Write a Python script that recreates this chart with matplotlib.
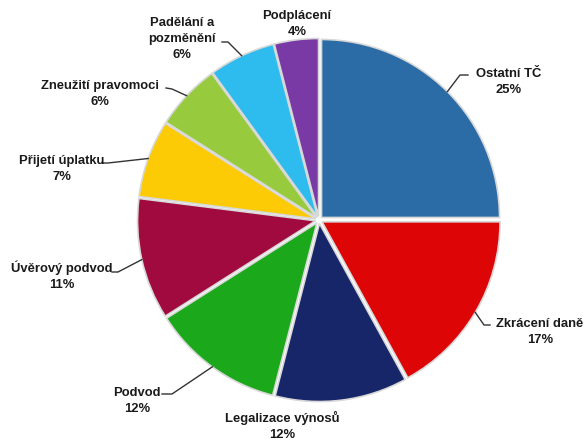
# Pie chart: structure of economic crime (Czech labels)
import numpy as np
import matplotlib.pyplot as plt

# -------------------------------------------------------
# Data
# -------------------------------------------------------
labels = ['Ostatní TČ', 'Zkrácení daně', 'Legalizace výnosů', 'Podvod',
          'Úvěrový podvod', 'Přijetí úplatku', 'Zneužití pravomoci',
          'Padělání a\npozměnění', 'Podplácení']
shares = [25, 17, 12, 12, 11, 7, 6, 6, 4]
colors = ['#2b6ca6', '#dd0505', '#172668', '#1ba81b', '#a10a3e',
          '#fccb05', '#97cb3d', '#2ebbee', '#7a3aa6']

# label layout in pixels (text centre, elbow of leader line or None)
PX = 178.0
CX, CY = 319.0, 220.0
text_pos = [(509, 82), (540, 332), (282, 426), (137, 401), (62, 276),
            (62, 169), (100, 94), (182, 39), (297, 24)]
elbows = [(460, 75), (484, 325), None, (172, 394), (118, 272),
          (108, 163), (172, 89), (228, 42), None]
line_ends = [(468, 75), (490, 325), None, (162, 394), (112, 272),
             (102, 163), (166, 88), (222, 42), None]


def to_data(p):
    return ((p[0] - CX) / PX, (CY - p[1]) / PX)


fig = plt.figure(figsize=(5.88, 4.4), dpi=100)
ax = fig.add_axes([0, 0, 1, 1])

wedges, _ = ax.pie(shares, colors=colors, startangle=90, counterclock=False,
                   explode=[0.02] * len(shares), radius=1.0,
                   wedgeprops=dict(edgecolor='#d8d8d8', linewidth=1.2))

ax.set_xlim(-CX / PX, (588 - CX) / PX)
ax.set_ylim(-(440 - CY) / PX, CY / PX)
ax.set_aspect('equal')
ax.axis('off')

for i, w in enumerate(wedges):
    mid = np.deg2rad((w.theta1 + w.theta2) / 2.0)
    txt = '%s\n%d%%' % (labels[i], shares[i])
    tx, ty = to_data(text_pos[i])
    ax.text(tx, ty, txt, ha='center', va='center', fontsize=9.4,
            fontweight='bold', family='Liberation Sans', color='#1a1a1a',
            linespacing=1.4)
    if elbows[i] is not None:
        cx, cy = w.center
        ex = cx + 1.0 * np.cos(mid)
        ey = cy + 1.0 * np.sin(mid)
        bx, by = to_data(elbows[i])
        lx, ly = to_data(line_ends[i])
        ax.plot([ex, bx, lx], [ey, by, ly], color='#333333', lw=1.0)

fig.savefig('out.png', dpi=100)
